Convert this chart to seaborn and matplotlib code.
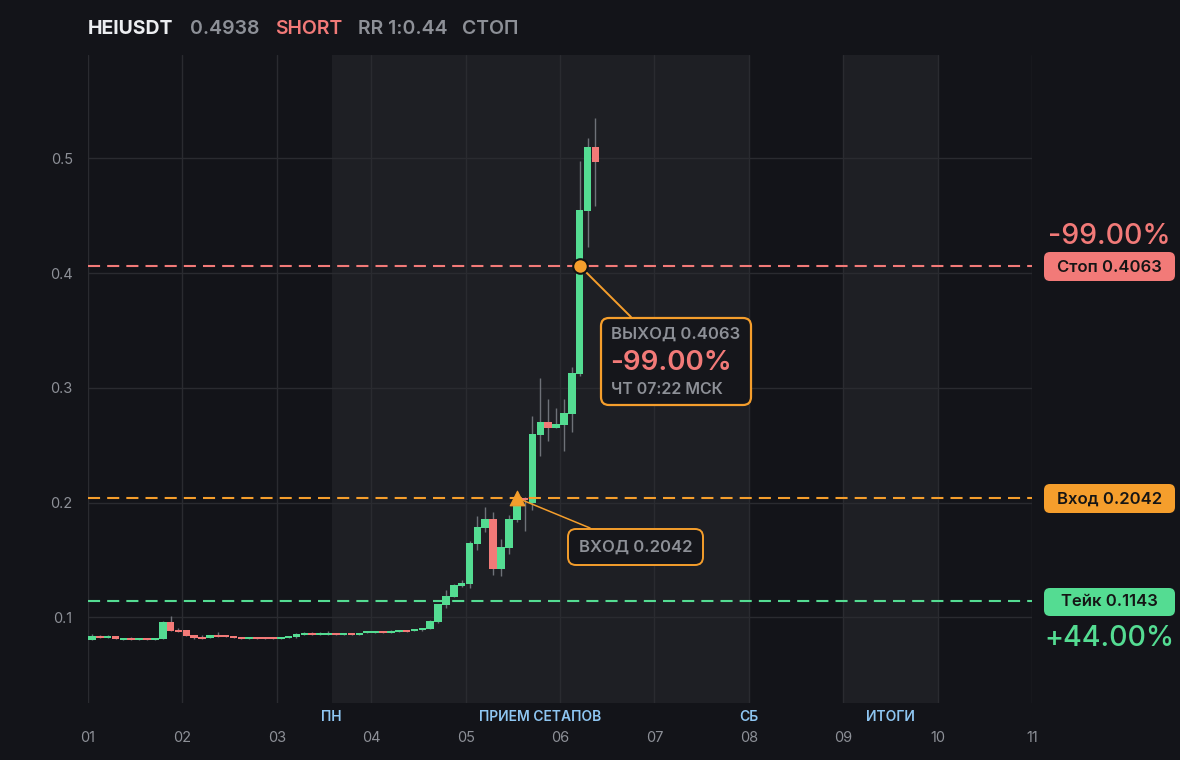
import matplotlib
matplotlib.use("Agg")
import matplotlib.pyplot as plt
import matplotlib.transforms as mtransforms
from matplotlib.patches import FancyBboxPatch
import seaborn as sns
import pandas as pd
import numpy as np

# 2h candles, 12 per day, first candle starts at day 01
opens = [
    .0802, .0837, .0820, .0837, .0802, .0820, .0802, .0820, .0802, .0811,
    .0959, .0889, .0889, .0846, .0828, .0820, .0846, .0846, .0837, .0828,
    .0811, .0828, .0828, .0828, .0811, .0820, .0828, .0846, .0863, .0846,
    .0846, .0863, .0846, .0863, .0846, .0863, .0863, .0872, .0863, .0872,
    .0889, .0881, .0889, .0898, .0959, .1107, .1177, .1273, .1290, .1638,
    .1777, .1856, .1421, .1603, .1847, .2040, .1996, .2590, .2700, .2650,
    .2675, .2770, .3120, .4540, .5100]
closes = [
    .0837, .0820, .0837, .0811, .0820, .0802, .0820, .0802, .0820, .0959,
    .0881, .0872, .0837, .0820, .0811, .0846, .0828, .0828, .0820, .0811,
    .0828, .0811, .0811, .0811, .0828, .0837, .0854, .0863, .0846, .0863,
    .0863, .0846, .0863, .0846, .0863, .0872, .0872, .0863, .0881, .0889,
    .0872, .0898, .0907, .0966, .1116, .1186, .1282, .1299, .1647, .1786,
    .1856, .1421, .1612, .1856, .1970, .2025, .2597, .2700, .2650, .2685,
    .2780, .3130, .4550, .5100, .4970]
highs = [
    .0855, .0846, .0846, .0837, .0820, .0828, .0820, .0820, .0820, .0968,
    .1010, .0907, .0889, .0846, .0846, .0846, .0872, .0846, .0837, .0828,
    .0828, .0828, .0828, .0828, .0828, .0837, .0863, .0872, .0872, .0872,
    .0881, .0863, .0863, .0863, .0863, .0872, .0872, .0872, .0889, .0889,
    .0889, .0898, .0907, .0975, .1116, .1238, .1290, .1325, .1664, .1882,
    .1960, .1917, .1682, .1890, .1975, .2050, .2754, .3090, .2900, .2820,
    .2900, .3180, .4976, .5176, .5352]
lows = [
    .0802, .0820, .0820, .0811, .0802, .0802, .0802, .0802, .0802, .0811,
    .0881, .0872, .0837, .0811, .0811, .0820, .0828, .0828, .0820, .0811,
    .0811, .0811, .0811, .0811, .0811, .0820, .0820, .0846, .0846, .0846,
    .0846, .0846, .0846, .0846, .0846, .0863, .0863, .0863, .0863, .0872,
    .0872, .0881, .0881, .0898, .0950, .1080, .1177, .1265, .1260, .1586,
    .1740, .1369, .1360, .1550, .1830, .1750, .1935, .2406, .2540, .2650,
    .2450, .2616, .3100, .4227, .4585]

day_ticks = list(range(1, 12))
day_labels = [f"{d:02d}" for d in day_ticks]
price_ticks = [0.1, 0.2, 0.3, 0.4, 0.5]

entry_price = 0.2042
stop_price = 0.4063
take_price = 0.1143
entry_idx = 54
exit_idx = 62

bands = [(3.58, 8.0), (9.0, 10.0)]
band_names = ["ПН", "ПРИЕМ СЕТАПОВ", "СБ", "ИТОГИ"]
band_name_x = [3.58, 5.79, 8.0, 9.5]

BG = "#131419"
BAND = "#1e1f24"
GRID = "#2a2b30"
GREEN = "#54dc92"
RED = "#f27a78"
ORANGE = "#f59e2c"
WICK = "#6e7178"
GRAY = "#8d9097"
BLUE = "#8ec6f2"

sns.set_theme(style="dark", rc={
    "figure.facecolor": BG, "axes.facecolor": BG, "axes.edgecolor": BG,
    "grid.color": GRID, "text.color": GRAY,
    "xtick.color": GRAY, "ytick.color": GRAY})
plt.rcParams["font.family"] = ["Inter", "DejaVu Sans"]

W, H = 1180, 760
fig = plt.figure(figsize=(W / 100, H / 100), dpi=100)
ax = fig.add_axes([88 / W, 57 / H, 944 / W, 648 / H])
PIX = mtransforms.IdentityTransform()


def ftext(x, y, s, **kw):
    # x, y in pixels from top-left
    fig.text(x, H - y, s, transform=PIX, **kw)


def rbox(x0, y0, x1, y1, face, edge=None, r=6, lw=0):
    patch = FancyBboxPatch((x0, H - y1), x1 - x0, y1 - y0,
                           boxstyle=f"round,pad=0,rounding_size={r}",
                           transform=PIX, facecolor=face,
                           edgecolor=edge if edge else face, linewidth=lw, zorder=5)
    fig.add_artist(patch)


# background bands and grid
for a, b in bands:
    ax.axvspan(a, b, color=BAND, zorder=0, lw=0)
ax.set_axisbelow(True)
ax.grid(True, color=GRID, lw=1)

# candles
xs = 1 + (np.arange(len(opens)) + 0.5) / 12
df = pd.DataFrame({"x": xs, "open": opens, "close": closes, "high": highs, "low": lows})
df["up"] = df["close"] >= df["open"]
df["bottom"] = df[["open", "close"]].min(axis=1)
df["height"] = (df["close"] - df["open"]).abs().clip(lower=0.0015)
ax.vlines(df["x"], df["low"], df["high"], color=WICK, lw=1, zorder=2)
ax.bar(df["x"], df["height"], bottom=df["bottom"], width=1 / 12 * 0.96,
       color=np.where(df["up"], GREEN, RED), zorder=3, lw=0)

# trade levels
dash = (0, (5.8, 3.4))
ax.axhline(stop_price, color=RED, ls=dash, lw=1.5, zorder=4)
ax.axhline(entry_price, color=ORANGE, ls=dash, lw=1.5, zorder=4)
ax.axhline(take_price, color=GREEN, ls=dash, lw=1.5, zorder=4)

# entry / exit markers
x_entry = xs[entry_idx]
x_exit = xs[exit_idx]
ax.annotate("", xy=(x_entry, entry_price), xytext=(590, H - 528),
            textcoords="figure pixels",
            arrowprops=dict(arrowstyle="-", color=ORANGE, lw=1.1, shrinkA=0, shrinkB=0),
            zorder=4)
ax.annotate("", xy=(x_exit, stop_price), xytext=(631, H - 317),
            textcoords="figure pixels",
            arrowprops=dict(arrowstyle="-", color=ORANGE, lw=1.4, shrinkA=0, shrinkB=0),
            zorder=4)
sns.scatterplot(x=[x_entry], y=[entry_price], marker="^", s=110, color=ORANGE,
                edgecolor=ORANGE, ax=ax, zorder=6)
sns.scatterplot(x=[x_exit], y=[stop_price], marker="o", s=110, color=ORANGE,
                edgecolor="#111214", linewidth=1.5, ax=ax, zorder=6)

ax.set_xlim(1, 11)
ax.set_ylim(0.0254, 0.590)
ax.set_xticks(day_ticks)
ax.set_xticklabels(day_labels)
ax.set_yticks(price_ticks)
ax.set_yticklabels([f"{v:.1f}" for v in price_ticks])
ax.tick_params(axis="x", length=0, pad=20.5, labelsize=10.5, labelcolor=GRAY)
ax.tick_params(axis="y", length=0, pad=11, labelsize=10.5, labelcolor=GRAY)
for s in ax.spines.values():
    s.set_visible(False)

# band captions under the plot
trans = mtransforms.blended_transform_factory(ax.transData, ax.transAxes)
for name, bx in zip(band_names, band_name_x):
    ax.text(bx, -0.0216, name, transform=trans, ha="center", va="center",
            color=BLUE, fontsize=10, fontweight="semibold", clip_on=False)

# header
ftext(88, 29, "HEIUSDT", color="#eceef1", fontsize=14, fontweight="bold", va="center")
ftext(190, 29, "0.4938", color=GRAY, fontsize=14, fontweight="semibold", va="center")
ftext(275, 29, "SHORT", color=RED, fontsize=14, fontweight="semibold", va="center")
ftext(358, 29, "RR 1:0.44", color=GRAY, fontsize=14, fontweight="semibold", va="center")
ftext(462, 29, "СТОП", color=GRAY, fontsize=14, fontweight="semibold", va="center")

# right side price tags
rbox(1044, 252, 1175, 281, RED)
ftext(1109.5, 267, "Стоп 0.4063", color="#151515", fontsize=12, fontweight="semibold",
      ha="center", va="center", zorder=6)
rbox(1044, 484, 1175, 513, ORANGE)
ftext(1109.5, 499, "Вход 0.2042", color="#151515", fontsize=12, fontweight="semibold",
      ha="center", va="center", zorder=6)
rbox(1044, 588, 1175, 616, GREEN)
ftext(1109.5, 602, "Тейк 0.1143", color="#151515", fontsize=12, fontweight="semibold",
      ha="center", va="center", zorder=6)
ftext(1109, 236, "-99.00%", color=RED, fontsize=20.5, fontweight="medium",
      ha="center", va="center")
ftext(1109, 638, "+44.00%", color=GREEN, fontsize=20.5, fontweight="medium",
      ha="center", va="center")

# exit callout
rbox(601, 318, 751, 405, "#15161b", edge=ORANGE, r=8, lw=1.6)
ftext(611, 334, "ВЫХОД 0.4063", color=GRAY, fontsize=12, fontweight="semibold",
      va="center", zorder=6)
ftext(610, 363, "-99.00%", color=RED, fontsize=20, fontweight="semibold",
      va="center", zorder=6)
ftext(611, 389, "ЧТ 07:22 МСК", color=GRAY, fontsize=11.5, fontweight="semibold",
      va="center", zorder=6)

# entry callout
rbox(568, 529, 703, 565, "#15161b", edge=ORANGE, r=8, lw=1.4)
ftext(635.5, 547, "ВХОД 0.2042", color=GRAY, fontsize=12, fontweight="semibold",
      ha="center", va="center", zorder=6)

fig.savefig("out.png", dpi=100, facecolor=BG)
